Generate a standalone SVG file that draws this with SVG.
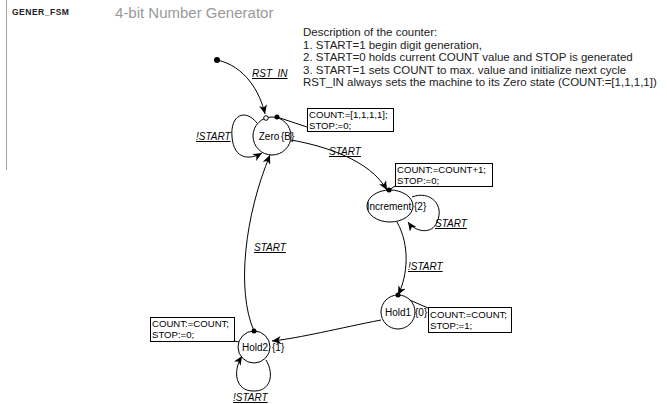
<svg xmlns="http://www.w3.org/2000/svg" width="667" height="404" viewBox="0 0 667 404">
<defs>
<marker id="arr" markerUnits="userSpaceOnUse" markerWidth="10" markerHeight="8" refX="9" refY="4" orient="auto">
<path d="M0,0 L9,4 L0,8 L2.5,4 z" fill="#000"/>
</marker>
<style>
.st{fill:#fff;stroke:#000;stroke-width:1}
.sl{font-family:"Liberation Sans",Arial,sans-serif;font-size:10px;fill:#000}
.box{fill:#fff;stroke:#000;stroke-width:1}
.bt{font-family:"Liberation Sans",Arial,sans-serif;font-size:9.6px;fill:#000}
.lbl{font-family:"Liberation Sans",Arial,sans-serif;font-size:10px;font-style:italic;fill:#000;text-decoration:underline}
.ln{fill:none;stroke:#000;stroke-width:1}
.desc{font-family:"Liberation Sans",Arial,sans-serif;font-size:11.5px;fill:#222}
</style>
</defs>
<rect width="667" height="404" fill="#fff"/>
<line x1="6.5" y1="0" x2="6.5" y2="170" stroke="#a0a0a0" stroke-width="1"/>
<text x="12" y="15" font-family="'Liberation Sans',Arial,sans-serif" font-size="8.5" font-weight="bold" letter-spacing="0.5" fill="#222">GENER_FSM</text>
<text x="115" y="18" font-family="'Liberation Sans',Arial,sans-serif" font-size="15" fill="#999">4-bit Number Generator</text>
<g id="description">
<text class="desc" x="303" y="36">Description of the counter:</text>
<text class="desc" x="303" y="48.5">1. START=1 begin digit generation,</text>
<text class="desc" x="303" y="61">2. START=0 holds current COUNT value and STOP is generated</text>
<text class="desc" x="303" y="73.5">3. START=1 sets COUNT to max. value and initialize next cycle</text>
<text class="desc" x="303" y="86">RST_IN always sets the machine to its Zero state (COUNT:=[1,1,1,1])</text>
</g>
<g id="connectors">
<path class="ln" d="M217,60 C245,66 260,92 265,114" marker-end="url(#arr)"/>
<text class="lbl" x="252" y="77">RST_IN</text>
<path class="ln" d="M257,123 C245,108 230,115 232,137 C234,160 250,160 262,153" marker-end="url(#arr)"/>
<text class="lbl" x="196" y="140">!START</text>
<path class="ln" d="M291,140 C325,146 370,160 387,190" marker-end="url(#arr)"/>
<text class="lbl" x="329" y="155">START</text>
<path class="ln" d="M412,197 C430,190 445,205 437,222 C432,235 415,232 408,222" marker-end="url(#arr)"/>
<text class="lbl" x="435" y="227">START</text>
<path class="ln" d="M397,222 C410,245 408,275 398,295" marker-end="url(#arr)"/>
<text class="lbl" x="408" y="270">!START</text>
<path class="ln" d="M381,320 C340,328 300,338 272,341" marker-end="url(#arr)"/>
<path class="ln" d="M266,360 C275,375 270,392 253,391 C236,391 232,372 242,356" marker-end="url(#arr)"/>
<text class="lbl" x="233" y="401">!START</text>
<path class="ln" d="M254,331 C236,290 245,215 270,155" marker-end="url(#arr)"/>
<text class="lbl" x="254" y="251">START</text>
<line class="ln" x1="277" y1="117" x2="307" y2="127"/>
<line class="ln" x1="389" y1="190" x2="395" y2="186"/>
<line class="ln" x1="398" y1="295" x2="428" y2="308"/>
<line class="ln" x1="234" y1="341" x2="239" y2="342"/>
</g>
<circle cx="217" cy="60" r="3" fill="#000"/>
<g id="Zero">
<circle class="st" cx="272" cy="136" r="19"/>
<text class="sl" x="269" y="140" text-anchor="middle">Zero</text>
<text class="sl" x="281" y="140">{B}</text>
<circle cx="266" cy="118" r="2.3" fill="#fff" stroke="#000"/>
<circle cx="277" cy="117" r="2.5" fill="#000"/>
<rect class="box" x="307.5" y="108.5" width="86" height="23"/>
<text class="bt" x="309" y="118">COUNT:=[1,1,1,1];</text>
<text class="bt" x="309" y="129">STOP:=0;</text>
</g>
<g id="Increment">
<ellipse class="st" cx="390" cy="206" rx="23" ry="16"/>
<text class="sl" x="389" y="210" text-anchor="middle">Increment</text>
<text class="sl" x="414" y="210">{2}</text>
<circle cx="389" cy="190" r="2.5" fill="#000"/>
<rect class="box" x="395.5" y="163.5" width="97" height="23"/>
<text class="bt" x="397" y="173">COUNT:=COUNT+1;</text>
<text class="bt" x="397" y="184">STOP:=0;</text>
</g>
<g id="Hold1">
<circle class="st" cx="398" cy="312" r="17"/>
<text class="sl" x="398" y="316" text-anchor="middle">Hold1</text>
<text class="sl" x="415" y="316">{0}</text>
<circle cx="398" cy="295" r="2.5" fill="#000"/>
<rect class="box" x="428.5" y="307.5" width="83" height="25"/>
<text class="bt" x="430" y="318">COUNT:=COUNT;</text>
<text class="bt" x="430" y="329">STOP:=1;</text>
</g>
<g id="Hold2">
<circle class="st" cx="254" cy="347" r="16"/>
<text class="sl" x="255" y="351" text-anchor="middle">Hold2</text>
<text class="sl" x="272" y="351">{1}</text>
<circle cx="254" cy="331" r="2.5" fill="#000"/>
<rect class="box" x="150.5" y="317.5" width="84" height="24"/>
<text class="bt" x="152" y="327">COUNT:=COUNT;</text>
<text class="bt" x="152" y="338">STOP:=0;</text>
</g>
</svg>
